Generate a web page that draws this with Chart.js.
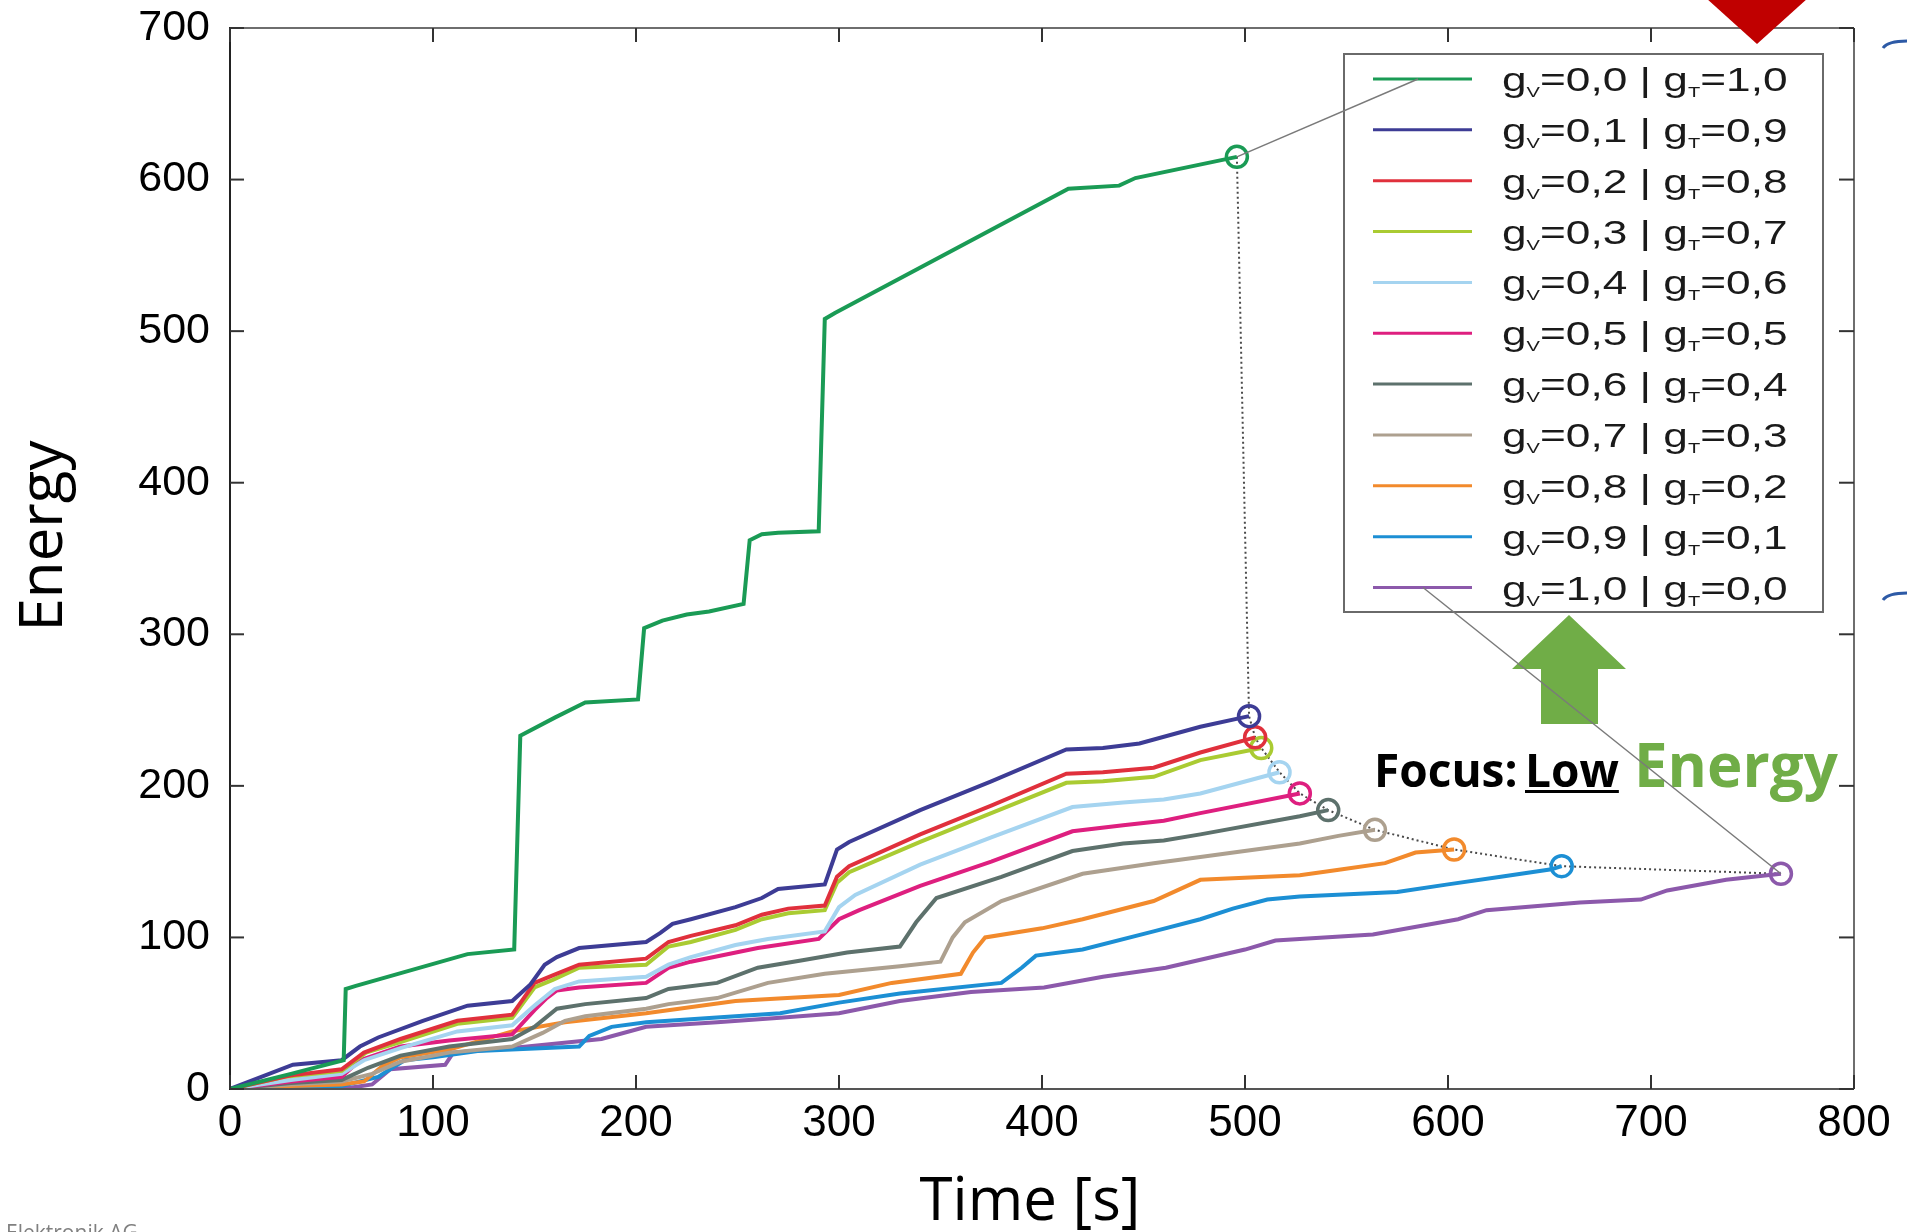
<!DOCTYPE html>
<html>
<head>
<meta charset="utf-8">
<title>Energy over time</title>
<script src="https://cdn.jsdelivr.net/npm/chart.js@4.4.1/dist/chart.umd.min.js"></script>
<style>
  html, body { margin: 0; padding: 0; background: #ffffff; overflow: hidden; }
  canvas { display: block; }
</style>
</head>
<body>
<canvas id="chart" width="1907" height="1232"></canvas>
<script>
// Cumulative energy per weighting g_V / g_T, as [time in s, energy] pairs
const gv00 = [[0,0],[30,10],[56,19],[57,66],[62,68],[117,89],[140,92],[143,233],[160,245],[175,255],[201,257],[204,304],[213,309],[225,313],[236,315],[253,320],[256,362],[262,366],[270,367],[290,368],[293,508],[298,512],[413,594],[438,596],[446,601],[496,615]];
const gv01 = [[0,0],[31,16],[55,19],[64,28],[73,34],[95,45],[117,55],[139,58],[148,69],[155,82],[161,87],[172,93],[205,97],[212,103],[218,109],[227,112],[249,120],[262,126],[270,132],[293,135],[299,158],[305,163],[340,184],[375,203],[412,224],[430,225],[448,228],[478,239],[502,246]];
const gv02 = [[0,0],[30,9],[55,13],[66,24],[84,33],[112,45],[139,49],[150,70],[159,75],[172,82],[205,86],[216,97],[227,101],[249,108],[262,115],[275,119],[293,121],[299,140],[305,147],[340,168],[375,187],[412,208],[430,209],[455,212],[478,222],[505,232]];
const gv03 = [[0,0],[27,8],[55,12],[67,24],[84,31],[112,43],[139,47],[150,67],[159,72],[172,80],[205,82],[216,94],[227,97],[249,105],[262,112],[275,116],[293,118],[299,136],[305,143],[340,163],[375,182],[412,202],[430,203],[455,206],[478,217],[508,225]];
const gv04 = [[0,0],[30,6],[55,10],[66,19],[84,27],[112,38],[139,42],[150,55],[160,66],[172,71],[205,74],[216,82],[227,87],[249,95],[265,99],[293,104],[300,120],[308,128],[340,148],[375,166],[415,186],[440,189],[460,191],[478,195],[517,209]];
const gv05 = [[0,0],[30,5],[55,8],[64,19],[84,28],[108,32],[139,36],[150,52],[156,60],[161,65],[172,67],[205,70],[216,80],[227,84],[260,93],[290,99],[300,112],[310,118],[340,134],[375,150],[415,170],[440,174],[460,177],[478,182],[527,195]];
const gv06 = [[0,0],[30,4],[55,6],[68,14],[84,22],[108,28],[139,33],[150,41],[161,53],[175,56],[205,60],[216,66],[240,70],[260,80],[282,85],[304,90],[330,94],[338,110],[348,126],[380,140],[415,157],[440,162],[460,164],[478,168],[527,180],[541,184]];
const gv07 = [[0,0],[30,3],[55,5],[70,10],[84,18],[108,24],[139,28],[154,37],[165,45],[175,48],[205,53],[216,56],[240,60],[265,70],[293,76],[330,81],[350,84],[356,100],[362,110],[380,124],[420,142],[455,149],[478,153],[527,162],[546,167],[564,171]];
const gv08 = [[0,0],[30,2],[55,3],[66,5],[75,15],[84,21],[108,26],[139,38],[165,44],[205,50],[249,58],[300,62],[326,70],[360,76],[366,90],[372,100],[400,106],[420,112],[455,124],[478,138],[527,141],[548,145],[569,149],[584,156],[603,158]];
const gv09 = [[0,0],[30,1],[55,2],[73,8],[80,14],[86,19],[100,21],[122,25],[172,28],[177,35],[188,41],[205,44],[271,50],[300,57],[330,63],[380,70],[390,80],[397,88],[420,92],[455,104],[478,112],[494,119],[511,125],[527,127],[575,130],[600,135],[626,140],[651,145],[656,147]];
const gv10 = [[0,0],[30,0.5],[60,1],[70,3],[79,13],[106,16],[110,24],[139,27],[183,33],[205,41],[240,44],[271,47],[300,50],[330,58],[365,64],[401,67],[430,74],[461,80],[500,92],[515,98],[563,102],[605,112],[619,118],[665,123],[695,125],[708,131],[737,138],[764,142]];

// Legend labels: weight of V and weight of T
const gvLabels = ['0,0','0,1','0,2','0,3','0,4','0,5','0,6','0,7','0,8','0,9','1,0'];
const gtLabels = ['1,0','0,9','0,8','0,7','0,6','0,5','0,4','0,3','0,2','0,1','0,0'];

// Axis tick values
const xTickValues = [0,100,200,300,400,500,600,700,800];
const yTickValues = [0,100,200,300,400,500,600,700];

const seriesData = [gv00, gv01, gv02, gv03, gv04, gv05, gv06, gv07, gv08, gv09, gv10];
const seriesColors = ['#1a9b55','#3d3c95','#e0303c','#aacb32','#a5d4f0','#de1f7f','#5d716c','#ada08f','#f28a2c','#1c8fd4','#8c59ab'];

const datasets = seriesData.map((s, i) => ({
  label: 'gV=' + gvLabels[i] + ' | gT=' + gtLabels[i],
  data: s.map(([t, e]) => ({ x: t, y: e })),
  borderColor: seriesColors[i],
  borderWidth: 4,
  tension: 0,
  fill: false,
  pointStyle: 'circle',
  pointRadius: c => (c.dataIndex === s.length - 1 ? 10.5 : 0),
  pointBorderColor: seriesColors[i],
  pointBackgroundColor: 'rgba(255,255,255,0)',
  pointBorderWidth: 3.5
}));

// Dotted front through the final point of every run
datasets.push({
  label: 'front',
  data: seriesData.map(s => ({ x: s[s.length - 1][0], y: s[s.length - 1][1] })),
  borderColor: '#4a4a4a',
  borderWidth: 2,
  borderDash: [2, 3],
  tension: 0,
  fill: false,
  pointRadius: 0
});

const TICK_FONT = '"Liberation Sans", Arial, Helvetica, sans-serif';
const TITLE_FONT = '"Open Sans", "Noto Sans", sans-serif';

function line(ctx, x1, y1, x2, y2) {
  ctx.beginPath(); ctx.moveTo(x1, y1); ctx.lineTo(x2, y2); ctx.stroke();
}

// Frame, inward ticks, titles, legend box and annotations
const overlay = {
  id: 'overlay',
  afterDatasetsDraw(chart) {
    const { ctx, chartArea: a, scales: { x, y } } = chart;
    ctx.save();

    // frame
    ctx.lineCap = 'butt';
    ctx.lineWidth = 2;
    ctx.strokeStyle = '#6e6e6e';
    line(ctx, a.left, a.top, a.right, a.top);
    line(ctx, a.right, a.top, a.right, a.bottom);
    ctx.strokeStyle = '#555555';
    line(ctx, a.left, a.bottom, a.right, a.bottom);
    ctx.strokeStyle = '#222222';
    line(ctx, a.left, a.top - 1, a.left, a.bottom + 1);

    // inward tick marks on all four sides
    ctx.strokeStyle = '#333333';
    ctx.lineWidth = 2;
    xTickValues.forEach(v => {
      const px = x.getPixelForValue(v);
      line(ctx, px, a.bottom, px, a.bottom - 14);
      line(ctx, px, a.top, px, a.top + 14);
    });
    yTickValues.forEach(v => {
      const py = y.getPixelForValue(v);
      line(ctx, a.left, py, a.left + 14, py);
      line(ctx, a.right, py, a.right - 15, py);
    });

    // axis titles
    ctx.fillStyle = '#000000';
    ctx.font = '60px ' + TITLE_FONT;
    ctx.textAlign = 'center';
    ctx.textBaseline = 'alphabetic';
    ctx.fillText('Time [s]', 1030, 1220);
    ctx.save();
    ctx.translate(62, 536);
    ctx.rotate(-Math.PI / 2);
    ctx.fillText('Energy', 0, 0);
    ctx.restore();

    // legend box
    const L = { left: 1344, top: 54, right: 1823, bottom: 612, row0: 79, step: 50.85, lx0: 1373, lx1: 1472, tx: 1502 };
    ctx.fillStyle = '#ffffff';
    ctx.fillRect(L.left, L.top, L.right - L.left, L.bottom - L.top);
    ctx.strokeStyle = '#6a6a6a';
    ctx.lineWidth = 2;
    ctx.strokeRect(L.left, L.top, L.right - L.left, L.bottom - L.top);
    ctx.textAlign = 'left';
    seriesData.forEach((s, i) => {
      const ry = L.row0 + i * L.step;
      ctx.strokeStyle = seriesColors[i];
      ctx.lineWidth = 3;
      line(ctx, L.lx0, ry, L.lx1, ry);
      ctx.save();
      ctx.translate(L.tx, ry + 12);
      ctx.scale(1.34, 1);
      ctx.fillStyle = '#1a1a1a';
      const big = '33px ' + TICK_FONT, small = '15px ' + TICK_FONT;
      const parts = [['g', big, 0], ['V', small, 6], ['=' + gvLabels[i] + ' | g', big, 0], ['T', small, 6], ['=' + gtLabels[i], big, 0]];
      let cx = 0;
      parts.forEach(([txt, f, dy]) => {
        ctx.font = f;
        ctx.fillText(txt, cx, dy);
        cx += ctx.measureText(txt).width;
      });
      ctx.restore();
    });

    // green arrow pointing up at the legend
    ctx.fillStyle = '#70ad47';
    ctx.beginPath();
    ctx.moveTo(1569, 615); ctx.lineTo(1626, 669); ctx.lineTo(1598, 669); ctx.lineTo(1598, 724);
    ctx.lineTo(1541, 724); ctx.lineTo(1541, 669); ctx.lineTo(1512, 669); ctx.closePath();
    ctx.fill();

    // red marker at the top edge
    ctx.fillStyle = '#c00000';
    ctx.beginPath();
    ctx.moveTo(1706, -2); ctx.lineTo(1808, -2); ctx.lineTo(1757, 44); ctx.closePath();
    ctx.fill();

    // blue bracket ends at the right edge
    ctx.strokeStyle = '#2d5aa6';
    ctx.lineWidth = 3;
    ctx.beginPath(); ctx.moveTo(1883, 48); ctx.quadraticCurveTo(1888, 41, 1907, 41); ctx.stroke();
    ctx.beginPath(); ctx.moveTo(1883, 600); ctx.quadraticCurveTo(1888, 593, 1907, 593); ctx.stroke();

    // focus caption
    ctx.textBaseline = 'alphabetic';
    ctx.fillStyle = '#000000';
    ctx.font = 'bold 46px ' + TITLE_FONT;
    ctx.fillText('Focus:', 1374, 787);
    ctx.fillText('Low', 1525, 787);
    const lowW = ctx.measureText('Low').width;
    ctx.fillRect(1525, 790, lowW, 3);
    ctx.fillStyle = '#70ad47';
    ctx.font = 'bold 60px ' + TITLE_FONT;
    ctx.fillText('Energy', 1634, 787);

    // thin leaders from the extreme runs to their legend entries
    const first = seriesData[0][seriesData[0].length - 1];
    const last = seriesData[10][seriesData[10].length - 1];
    ctx.strokeStyle = '#7a7a7a';
    ctx.lineWidth = 1.5;
    line(ctx, x.getPixelForValue(first[0]), y.getPixelForValue(first[1]), 1418, L.row0);
    line(ctx, x.getPixelForValue(last[0]), y.getPixelForValue(last[1]), 1423, L.row0 + 10 * L.step);

    // footer
    ctx.fillStyle = '#808080';
    ctx.font = '21px ' + TITLE_FONT;
    ctx.fillText('Elektronik AG', 6, 1240);

    ctx.restore();
  }
};

new Chart(document.getElementById('chart'), {
  type: 'line',
  data: { datasets },
  options: {
    responsive: false,
    animation: false,
    devicePixelRatio: 1,
    events: [],
    layout: { padding: { top: 28, right: 53, left: 0, bottom: 0 } },
    plugins: { legend: { display: false }, tooltip: { enabled: false } },
    scales: {
      x: {
        type: 'linear', min: 0, max: 800,
        afterBuildTicks: s => { s.ticks = xTickValues.map(v => ({ value: v })); },
        afterFit: s => { s.height = 143; },
        grid: { display: false, drawTicks: true, tickLength: 8 },
        border: { display: false },
        ticks: { font: { family: TICK_FONT, size: 44 }, color: '#000000', padding: 0, maxRotation: 0, autoSkip: false }
      },
      y: {
        type: 'linear', min: 0, max: 700,
        afterBuildTicks: s => { s.ticks = yTickValues.map(v => ({ value: v })); },
        afterFit: s => { s.width = 230; },
        grid: { display: false, drawTicks: true, tickLength: 20 },
        border: { display: false },
        ticks: { font: { family: TICK_FONT, size: 43 }, color: '#000000', padding: 0, autoSkip: false }
      }
    }
  },
  plugins: [overlay]
});
</script>
</body>
</html>
